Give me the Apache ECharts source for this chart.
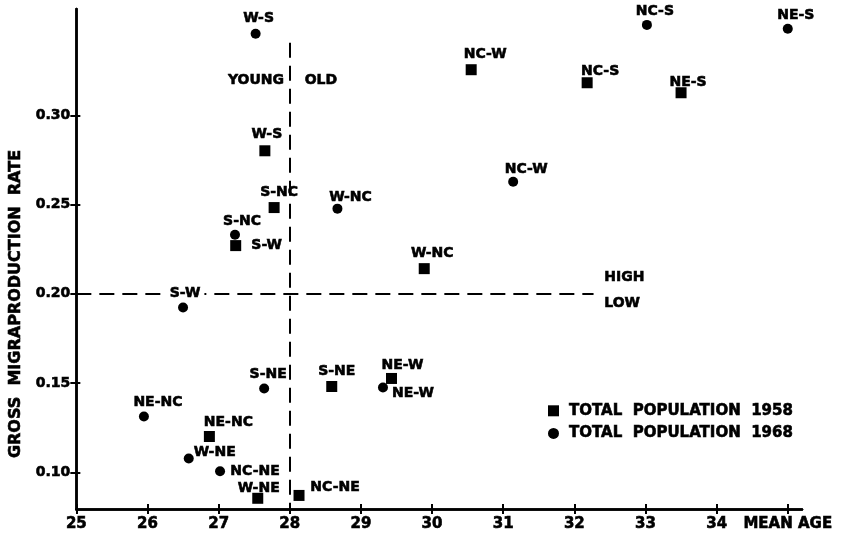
<!DOCTYPE html>
<html>
<head>
<meta charset="utf-8">
<script src="https://cdn.jsdelivr.net/npm/echarts@6/dist/echarts.min.js"></script>
<style>
  html, body { margin: 0; padding: 0; background: #fff; }
  #chart { width: 847px; height: 541px; }
</style>
</head>
<body>
<div id="chart"></div>
<script>
// Flow pairs (origin-destination regions), mean age vs gross migraproduction rate
const names1958 = ['NC-W', 'NC-S', 'NE-S', 'W-S', 'S-NC', 'S-W', 'W-NC', 'S-NE', 'NE-W', 'NE-NC', 'W-NE', 'NC-NE'];
const age1958   = [30.55, 32.18, 33.50, 27.65, 27.78, 27.24, 29.89, 28.59, 29.43, 26.87, 27.55, 28.13];
const rate1958  = [0.3255, 0.3182, 0.3126, 0.2801, 0.2483, 0.2270, 0.2141, 0.1481, 0.1526, 0.1201, 0.0855, 0.0871];

const names1968 = ['W-S', 'NC-S', 'NE-S', 'NC-W', 'W-NC', 'S-NC', 'S-W', 'S-NE', 'NE-NC', 'W-NE', 'NC-NE', 'NE-W'];
const age1968   = [27.52, 33.02, 35.00, 31.14, 28.67, 27.23, 26.50, 27.64, 25.95, 26.58, 27.02, 29.31];
const rate1968  = [0.3456, 0.3506, 0.3484, 0.2628, 0.2477, 0.2331, 0.1923, 0.1470, 0.1313, 0.1078, 0.1006, 0.1475];

const seriesNames = ['TOTAL  POPULATION  1958', 'TOTAL  POPULATION  1968'];
const xTicks = [25, 26, 27, 28, 29, 30, 31, 32, 33, 34, 35];
const yTicks = [0.10, 0.15, 0.20, 0.25, 0.30];
const xAxisTitle = 'MEAN AGE';
const yAxisTitle = 'GROSS  MIGRAPRODUCTION  RATE';

// Dividing lines between young/old and high/low
const dividerAge = 28;
const dividerRate = 0.20;

// Label placement (pixel offset of each label from its marker)
const labelOffsets = {
  '1958': {
    'NC-W': [14, -15], 'NC-S': [13, -11], 'NE-S': [7, -10], 'W-S': [2, -16],
    'S-NC': [5, -15], 'S-W': [31, 0], 'W-NC': [8, -15], 'S-NE': [5, -15],
    'NE-W': [11, -13], 'NE-NC': [19, -14], 'W-NE': [1, -10], 'NC-NE': [36, -8]
  },
  '1968': {
    'W-S': [3, -15], 'NC-S': [8, -14], 'NE-S': [8, -13], 'NC-W': [13, -12],
    'W-NC': [13, -11], 'S-NC': [7, -13], 'S-W': [2, -14], 'S-NE': [4, -14],
    'NE-NC': [14, -14], 'W-NE': [26, -6], 'NC-NE': [35, 0], 'NE-W': [30, 6]
  }
};

const FONT = 'DejaVu Sans';
const INK = '#000';
// slight stroke to give the lettering a heavier, plotted look
const heavy = { textBorderColor: INK, textBorderWidth: 0.6 };

function points(names, xs, ys, year) {
  return names.map((n, i) => {
    const item = {
      name: n,
      value: [xs[i], ys[i]],
      label: { offset: labelOffsets[year][n] }
    };
    if (year === '1968' && n === 'S-W') {
      // this label sits on the dashed HIGH/LOW line
      item.label.backgroundColor = '#fff';
      item.label.padding = [0, 4];
    }
    return item;
  });
}

const pointLabel = Object.assign({
  show: true,
  position: 'inside',
  formatter: '{b}',
  color: INK,
  fontFamily: FONT,
  fontWeight: 'bold',
  fontSize: 14
}, heavy);

const xMin = 25, xMax = 35.2;
const yMin = 0.0795, yMax = 0.3595;

const axisCommon = {
  axisLine: { show: true, lineStyle: { color: INK, width: 2.5 } },
  splitLine: { show: false }
};

const option = {
  backgroundColor: '#fff',
  animation: false,
  textStyle: { fontFamily: FONT },
  grid: { left: 76, right: 45, top: 9, bottom: 32 },
  legend: {
    data: [
      { name: seriesNames[0], icon: 'rect' },
      { name: seriesNames[1], icon: 'circle' }
    ],
    orient: 'vertical',
    left: 543,
    top: 398,
    itemWidth: 11,
    itemHeight: 11,
    itemGap: 7,
    formatter: '{t|{name}}',
    textStyle: Object.assign({
      color: INK,
      fontFamily: FONT,
      fontWeight: 'bold',
      fontSize: 15,
      rich: { t: Object.assign({ padding: [0, 0, 0, 5], fontFamily: FONT, fontWeight: 'bold', fontSize: 15, color: INK }, heavy) }
    }, heavy),
    selectedMode: false
  },
  xAxis: [
    Object.assign({}, axisCommon, {
      type: 'value', min: xMin, max: xMax,
      axisTick: { show: true, length: 5, lineStyle: { color: INK, width: 2 }, customValues: xTicks },
      axisLabel: Object.assign({
        customValues: xTicks,
        color: INK, fontFamily: FONT, fontWeight: 'bold', fontSize: 15, margin: 8,
        formatter: v => (v === 35 ? xAxisTitle : String(v))
      }, heavy)
    }),
    Object.assign({}, axisCommon, {
      type: 'value', min: xMin, max: xMax, position: 'bottom',
      axisTick: { show: true, inside: true, length: 5, lineStyle: { color: INK, width: 2 }, customValues: xTicks },
      axisLabel: { show: false }
    })
  ],
  yAxis: [
    Object.assign({}, axisCommon, {
      type: 'value', min: yMin, max: yMax,
      name: yAxisTitle,
      nameLocation: 'middle',
      nameRotate: 90,
      nameGap: 50,
      nameTextStyle: Object.assign({
        color: INK, fontFamily: FONT, fontWeight: 'bold', fontSize: 16,
        padding: [0, 90, 0, 0]
      }, heavy),
      axisTick: { show: true, length: 6, lineStyle: { color: INK, width: 2 }, customValues: yTicks },
      axisLabel: Object.assign({
        customValues: yTicks,
        color: INK, fontFamily: FONT, fontWeight: 'bold', fontSize: 14, margin: 6,
        formatter: v => v.toFixed(2)
      }, heavy)
    }),
    Object.assign({}, axisCommon, {
      type: 'value', min: yMin, max: yMax, position: 'left',
      axisTick: { show: true, inside: true, length: 4, lineStyle: { color: INK, width: 2 }, customValues: yTicks },
      axisLabel: { show: false }
    })
  ],
  series: [
    {
      name: seriesNames[0],
      type: 'scatter',
      symbol: 'rect',
      symbolSize: 11,
      itemStyle: { color: INK, opacity: 1 },
      label: pointLabel,
      data: points(names1958, age1958, rate1958, '1958'),
      z: 5
    },
    {
      name: seriesNames[1],
      type: 'scatter',
      symbol: 'circle',
      symbolSize: 10,
      itemStyle: { color: INK, opacity: 1 },
      label: pointLabel,
      data: points(names1968, age1968, rate1968, '1968'),
      z: 5,
      markLine: {
        silent: true,
        symbol: 'none',
        animation: false,
        label: { show: false },
        lineStyle: { color: INK, width: 2, type: [15, 8] },
        data: [
          [{ coord: [xMin, dividerRate] }, { coord: [32.27, dividerRate] }],
          [{ coord: [dividerAge, 0.3406] }, { coord: [dividerAge, yMin] }]
        ]
      }
    },
    {
      // region annotations around the dividing lines
      type: 'scatter',
      silent: true,
      symbol: 'circle',
      symbolSize: 0,
      itemStyle: { color: INK, opacity: 1 },
      label: Object.assign({
        show: true,
        position: [0, 0],
        verticalAlign: 'middle',
        formatter: '{b}',
        color: INK, fontFamily: FONT, fontWeight: 'bold', fontSize: 14
      }, heavy),
      data: [
        { name: 'YOUNG', value: [27.92, 0.3193], label: { align: 'right' } },
        { name: 'OLD', value: [28.21, 0.3193], label: { align: 'left' } },
        { name: 'HIGH', value: [32.42, 0.2091], label: { align: 'left' } },
        { name: 'LOW', value: [32.42, 0.1946], label: { align: 'left' } }
      ]
    }
  ]
};

const chart = echarts.init(document.getElementById('chart'), null, { renderer: 'canvas' });
chart.setOption(option);
</script>
</body>
</html>
